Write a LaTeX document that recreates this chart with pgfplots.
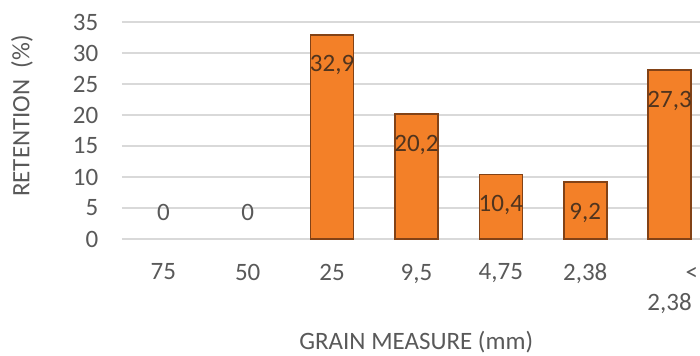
\documentclass[border=0pt]{standalone}
\usepackage{fontspec}
\setmainfont{Carlito}
\usepackage{pgfplots}
\pgfplotsset{compat=1.18}
\definecolor{tickgray}{RGB}{89,89,89}
\definecolor{gridgray}{RGB}{217,217,217}
\definecolor{barfill}{RGB}{243,128,40}
\definecolor{barline}{RGB}{130,66,22}
\definecolor{lblbrown}{RGB}{80,52,30}
\begin{document}
\begin{tikzpicture}[font=\fontsize{12.5}{15}\selectfont]
\path[use as bounding box] (-61pt,-58.5pt) rectangle (289pt,119.5pt);
\begin{axis}[
  at={(0,0)}, anchor=south west,
  scale only axis, width=289pt, height=108.5pt,
  xmin=-0.49, xmax=6.36, ymin=0, ymax=35,
  axis line style={draw=none},
  tick style={draw=none},
  ytick={0,5,...,35},
  ymajorgrids,
  major grid style={draw=gridgray, line width=1pt},
  xtick={0,1,2,3,4,5,6},
  xticklabels={75,50,25,{9,5},{4,75},{2,38},{\vphantom{0}\makebox[0pt][l]{\hspace{8pt}<}\\2,38}},
  xticklabel style={anchor=north, yshift=-8.9pt, text=tickgray, align=center},
  yticklabel style={anchor=east, xshift=-8.3pt, text=tickgray},
  /pgf/number format/assume math mode=true,
  xlabel={GRAIN MEASURE (mm)},
  xlabel style={at={(axis description cs:0.509,-0.475)}, anchor=center, text=tickgray},
  ylabel={RETENTION\ \ (\%)},
  ylabel style={at={(axis description cs:-0.173,0.567)}, anchor=center, rotate=0, text=tickgray},
  clip=false,
]
\addplot[ybar, bar width=21.5pt, draw=barline, line width=0.8pt, fill=barfill]
  coordinates {(2,32.9) (3,20.2) (4,10.4) (5,9.2) (6,27.3)};
\addplot[draw=none, mark=none, nodes near coords, point meta=explicit symbolic,
  every node near coord/.append style={anchor=center, text=tickgray}]
  coordinates {(0,4.35)[0] (1,4.35)[0]};
\addplot[draw=none, mark=none, nodes near coords, point meta=explicit symbolic,
  every node near coord/.append style={anchor=center, text=lblbrown}]
  coordinates {(2,28.1)[{32,9}] (3,15.2)[{20,2}] (4,5.5)[{10,4}] (5,4.2)[{9,2}] (6,22.3)[{27,3}]};
\end{axis}
\end{tikzpicture}
\end{document}
